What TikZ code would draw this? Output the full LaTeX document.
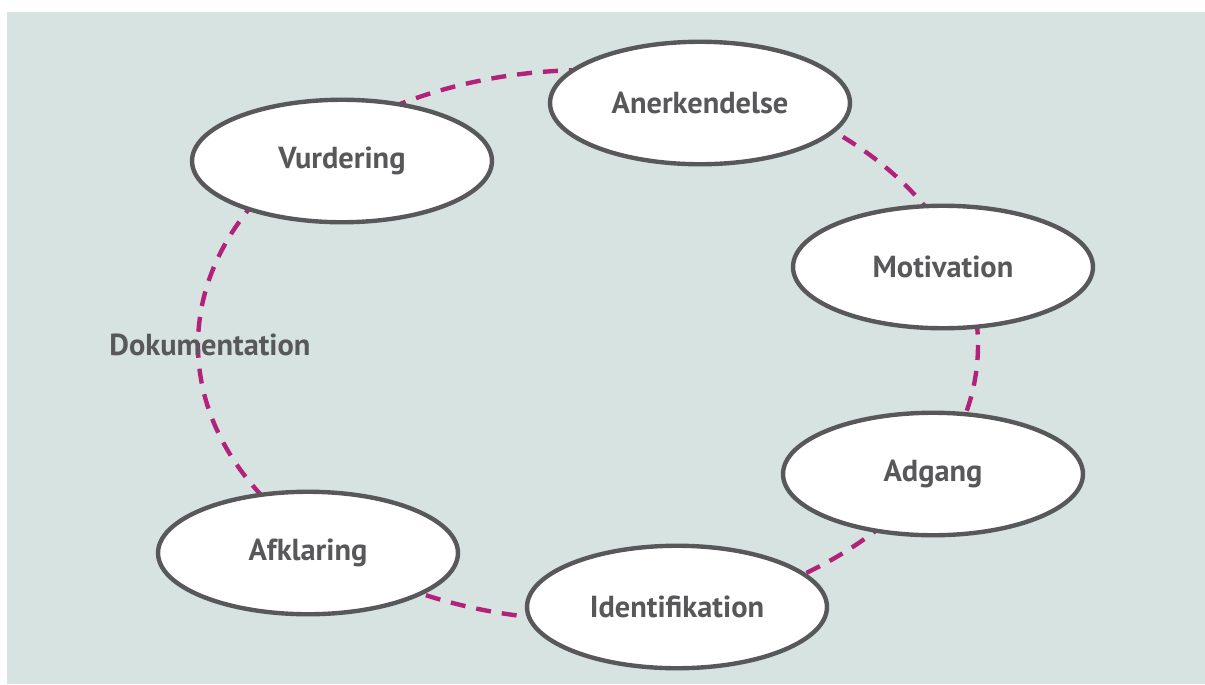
\documentclass[tikz,border=0pt]{standalone}
\usepackage{fontspec}
\setmainfont{PT Sans}
\usetikzlibrary{shapes.geometric}
\definecolor{bgmint}{HTML}{D6E3E0}
\definecolor{ringpink}{HTML}{B3227A}
\definecolor{textgray}{HTML}{58585A}
\tikzset{
  stage/.style = {ellipse, draw = textgray, line width = 2.5pt, fill = white,
    minimum width = 6.0cm, minimum height = 2.45cm, text = textgray,
    font = \fontsize{17.3}{20}\selectfont\bfseries},
  ring/.style = {ringpink, line width = 2.5pt, dash pattern = on 0.3cm off 0.22cm}
}
\begin{document}
\begin{tikzpicture}[x = 0.02cm, y = -0.02cm]
\useasboundingbox (0,0) rectangle (1205,684);
\fill[bgmint] (7,12) rectangle (1205,684);

\coordinate (mid) at (588,345);
\draw[ring] (mid) ellipse [x radius = 390, y radius = 275];

\node[stage] (vurdering)      at (342,161) {Vurdering};
\node[stage] (anerkendelse)   at (700,103) {Anerkendelse};
\node[stage] (motivation)     at (943,267) {Motivation};
\node[stage] (adgang)         at (933,474) {Adgang};
\node[stage] (identifikation) at (677,607) {Identifikation};
\node[stage] (afklaring)      at (308,553) {Afklaring};

\node[text = textgray, font = \fontsize{17.3}{20}\selectfont\bfseries] (dokumentation) at (210,345) {Dokumentation};
\end{tikzpicture}
\end{document}
